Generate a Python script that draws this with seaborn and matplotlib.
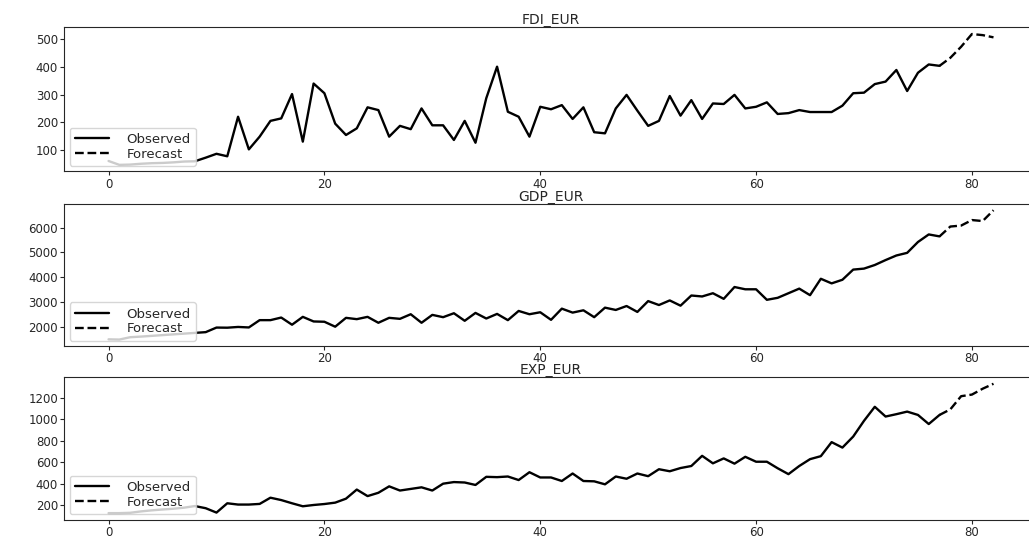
import numpy as np
import pandas as pd
import seaborn as sns
import matplotlib
matplotlib.use("Agg")
import matplotlib.pyplot as plt
from matplotlib.ticker import MultipleLocator

sns.set_style("ticks")

# observed values, index 0..77
fdi_obs = [60, 46, 47, 50, 52, 53, 55, 58, 59, 72, 86, 77, 220, 102, 148, 205, 214, 302, 130, 340,
           305, 195, 154, 178, 254, 244, 148, 187, 175, 250, 189, 189, 136, 205, 126, 287, 401, 238,
           220, 148, 256, 247, 262, 212, 254, 164, 160, 250, 299, 242, 187, 205, 295, 224, 280, 212,
           268, 266, 299, 250, 256, 272, 230, 233, 244, 237, 237, 237, 260, 305, 307, 338, 347, 389,
           313, 379, 409, 404]
gdp_obs = [1490, 1480, 1575, 1600, 1630, 1660, 1690, 1720, 1750, 1780, 1965, 1960, 1990, 1970, 2265,
           2265, 2370, 2080, 2398, 2212, 2200, 2000, 2358, 2305, 2398, 2159, 2358, 2318, 2504, 2159,
           2478, 2385, 2544, 2239, 2557, 2331, 2517, 2265, 2637, 2504, 2584, 2278, 2730, 2570, 2663,
           2385, 2770, 2677, 2836, 2597, 3035, 2876, 3062, 2850, 3261, 3222, 3353, 3126, 3604, 3512,
           3512, 3087, 3167, 3353, 3539, 3274, 3937, 3751, 3897, 4308, 4348, 4494, 4693, 4878, 4985,
           5423, 5729, 5650]
exp_obs = [124, 124, 127, 140, 150, 158, 165, 175, 190, 170, 129, 216, 204, 204, 210, 268, 246, 216,
           188, 200, 209, 222, 259, 344, 283, 314, 374, 335, 350, 365, 335, 399, 414, 410, 387, 463,
           460, 466, 433, 506, 457, 457, 424, 494, 424, 421, 393, 466, 445, 494, 469, 534, 515, 545,
           564, 659, 589, 635, 586, 650, 604, 604, 543, 488, 564, 628, 656, 787, 736, 839, 986, 1117,
           1026, 1048, 1072, 1041, 956, 1041]

# forecast values, index 77..82 (starts at last observed point)
fdi_fc = [404, 433, 473, 519, 515, 507]
gdp_fc = [5650, 6048, 6087, 6310, 6270, 6708]
exp_fc = [1041, 1093, 1216, 1231, 1286, 1332]

series = [("FDI_EUR", fdi_obs, fdi_fc, 100),
          ("GDP_EUR", gdp_obs, gdp_fc, 1000),
          ("EXP_EUR", exp_obs, exp_fc, 200)]

fig = plt.figure(figsize=(10.29, 5.39), dpi=100)
# axes run slightly past the right edge, like the cropped original
boxes = [(0.682, 0.267), (0.358, 0.264), (0.036, 0.264)]

for (name, obs, fc, ystep), (b, h) in zip(series, boxes):
    ax = fig.add_axes([0.0625, b, 0.946, h])
    obs_idx = np.arange(len(obs))
    fc_idx = np.arange(len(obs) - 1, len(obs) - 1 + len(fc))
    sns.lineplot(x=obs_idx, y=obs, color="black", linewidth=1.7, label="Observed", ax=ax)
    sns.lineplot(x=fc_idx, y=fc, color="black", linewidth=1.7, linestyle="--",
                 label="Forecast", ax=ax)
    ax.set_title(name, fontsize=10, pad=1)
    ax.yaxis.set_major_locator(MultipleLocator(ystep))
    ax.xaxis.set_major_locator(MultipleLocator(20))
    ax.legend(loc="lower left", fontsize=9.5, handlelength=2.6, handletextpad=1.3,
              borderaxespad=0.4, labelspacing=0.15)
    ax.tick_params(labelsize=8.5, length=3, pad=1.5)

fig.savefig("out.png", dpi=100)
